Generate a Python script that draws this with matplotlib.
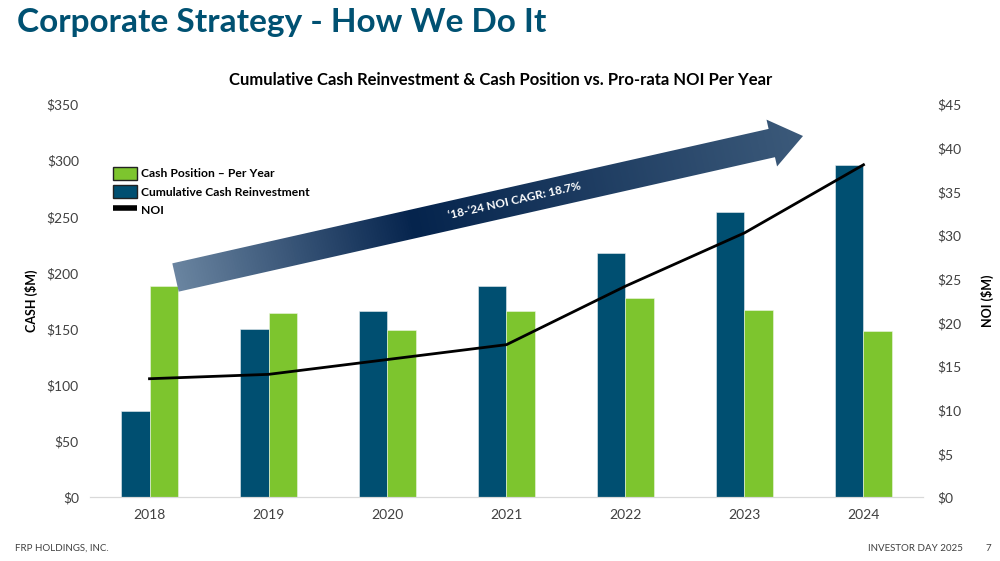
import numpy as np
import matplotlib.pyplot as plt
from matplotlib.colors import LinearSegmentedColormap
from matplotlib.patches import Polygon, Patch
from matplotlib.lines import Line2D

# --- data ---
years = ["2018", "2019", "2020", "2021", "2022", "2023", "2024"]
cum_reinvest = [77, 150, 166, 188, 218, 254, 296]     # $M, left axis
cash_position = [188, 164, 149, 166, 178, 167, 148]   # $M, left axis
noi = [13.6, 14.1, 15.8, 17.5, 24.2, 30.3, 38.1]      # $M, right axis

cash_ticks = [0, 50, 100, 150, 200, 250, 300, 350]
noi_ticks = [0, 5, 10, 15, 20, 25, 30, 35, 40, 45]

BLUE = "#004f71"
GREEN = "#7dc52e"
TEAL = "#005172"
TXT = "#404040"

plt.rcParams['font.family'] = ['Lato', 'DejaVu Sans']

fig = plt.figure(figsize=(10, 5.61), dpi=100)
ax = fig.add_axes([0.09, 0.1132, 0.833, 0.7005])
ax2 = ax.twinx()

x = np.arange(len(years))
w = 0.24
ax.bar(x - w / 2, cum_reinvest, w, color=BLUE, edgecolor="#e8eef2", linewidth=0.4, zorder=2)
ax.bar(x + w / 2, cash_position, w, color=GREEN, edgecolor="#eef6e4", linewidth=0.4, zorder=2)
ax2.plot(x, noi, color="black", linewidth=2, zorder=3)

ax.set_xlim(-0.5, 6.5)
ax.set_ylim(0, 350)
ax2.set_ylim(0, 45)
ax.set_xticks(x)
ax.set_xticklabels(years)
ax.set_yticks(cash_ticks)
ax.set_yticklabels([f"${v}" for v in cash_ticks])
ax2.set_yticks(noi_ticks)
ax2.set_yticklabels([f"${v}" for v in noi_ticks])

for a in (ax, ax2):
    for s in ("top", "left", "right"):
        a.spines[s].set_visible(False)
    a.spines["bottom"].set_color("#d9d9d9")
    a.tick_params(length=0, labelsize=10, colors=TXT)
ax.tick_params(axis="x", pad=8)
ax.tick_params(axis="y", pad=8)
ax2.tick_params(axis="y", pad=10)

ax.set_ylabel("CASH ($M)", fontsize=9, fontweight="bold", color="black", labelpad=6)
ax2.set_ylabel("NOI ($M)", fontsize=9, fontweight="bold", color="black", rotation=90, labelpad=14)

handles = [Patch(facecolor=GREEN, edgecolor="#222222", linewidth=1),
           Patch(facecolor=BLUE, edgecolor="#222222", linewidth=1),
           Line2D([0], [0], color="black", linewidth=4, solid_capstyle="butt")]
labels = ["Cash Position \u2013 Per Year", "Cumulative Cash Reinvestment", "NOI"]
leg = fig.legend(handles, labels, loc="upper left", bbox_to_anchor=(0.102, 0.722),
                 frameon=False, handlelength=2.0, handleheight=1.25, handletextpad=0.35,
                 labelspacing=0.45, prop={"size": 8.7, "weight": "bold"})

# titles and footer
fig.text(0.017, 0.943, "Corporate Strategy - How We Do It", fontsize=24,
         fontweight="bold", color=TEAL, va="baseline")
fig.text(0.501, 0.857, "Cumulative Cash Reinvestment & Cash Position vs. Pro-rata NOI Per Year",
         fontsize=12, fontweight="bold", color="black", ha="center", va="center")
fig.text(0.015, 0.023, "FRP HOLDINGS, INC.", fontsize=7, color=TXT, va="center")
fig.text(0.963, 0.023, "INVESTOR DAY 2025", fontsize=7, color=TXT, va="center", ha="right")
fig.text(0.988, 0.023, "7", fontsize=7, color=TXT, va="center", ha="center")

# --- gradient CAGR arrow (overlay in pixel coords) ---
ov = fig.add_axes([0, 0, 1, 1], zorder=5)
ov.set_xlim(0, 1000)
ov.set_ylim(561, 0)
ov.axis("off")
ov.patch.set_alpha(0)

tail = np.array([175.5, 277.5])
tip = np.array([803.0, 136.0])
d = tip - tail
L = np.hypot(*d)
u = d / L
n = np.array([-u[1], u[0]])
body_hw, head_hw, head_len = 14.5, 24.0, 32.0
base = tip - head_len * u
pts = [tail - body_hw * n, base - body_hw * n, base - head_hw * n, tip,
       base + head_hw * n, base + body_hw * n, tail + body_hw * n]
poly = Polygon(pts, closed=True, facecolor="none", edgecolor="none")
ov.add_patch(poly)

X, Y = np.meshgrid(np.arange(1000) + 0.5, np.arange(561) + 0.5)
t = np.clip(((X - tail[0]) * u[0] + (Y - tail[1]) * u[1]) / L, 0, 1)
cmap = LinearSegmentedColormap.from_list(
    "arrow", [(0, "#6a84a0"), (0.38, "#05244d"), (1.0, "#3c5a7a")])
im = ov.imshow(t, cmap=cmap, extent=(0, 1000, 561, 0), aspect="auto", interpolation="bilinear")
im.set_clip_path(poly)

mid = tail + 0.54 * d
ang = np.degrees(np.arctan2(-d[1], d[0]))
ov.text(mid[0], mid[1], "\u201818-\u201824 NOI CAGR: 18.7%", color="white", fontsize=8.5,
        fontweight="bold", rotation=ang, rotation_mode="anchor", ha="center", va="center")

fig.savefig("out.png", dpi=100)
